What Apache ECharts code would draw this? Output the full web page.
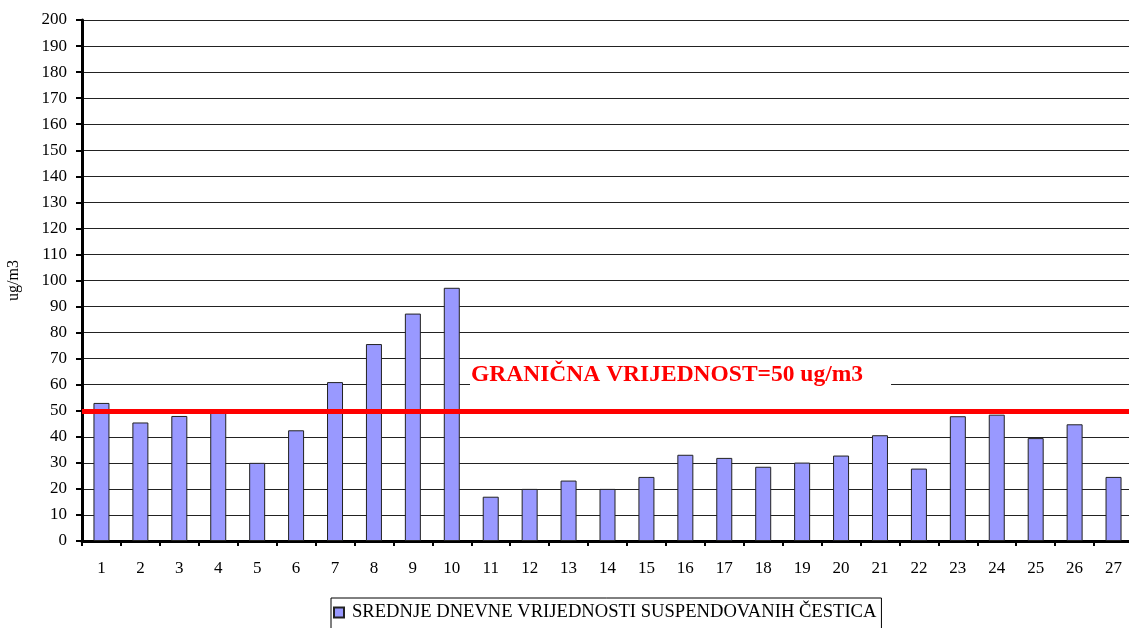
<!DOCTYPE html>
<html>
<head>
<meta charset="utf-8">
<script src="https://cdn.jsdelivr.net/npm/echarts@6/dist/echarts.min.js"></script>
<style>html,body{margin:0;padding:0;background:#fff;}#c{width:1129px;height:628px;}</style>
</head>
<body>
<div id="c"></div>
<script>
const categories = ['1','2','3','4','5','6','7','8','9','10','11','12','13','14','15','16','17','18','19','20','21','22','23','24','25','26','27'];
const values = [53, 45.5, 48, 50, 30, 42.5, 61, 75.6, 87.3, 97.2, 17, 20, 23.2, 20, 24.6, 33.1, 31.9, 28.5, 30.1, 32.8, 40.6, 27.8, 47.9, 48.5, 39.5, 44.8, 24.6];
const limitValue = 50;
const seriesName = 'SREDNJE DNEVNE VRIJEDNOSTI SUSPENDOVANIH ČESTICA';
const limitLabel = 'GRANIČNA VRIJEDNOST=50 ug/m3';
const yName = 'ug/m3';

const serif = 'Liberation Serif, Times New Roman, serif';
const chart = echarts.init(document.getElementById('c'));
chart.setOption({
  animation: false,
  backgroundColor: '#fff',
  grid: { left: 82, top: 20, bottom: 87, width: 1051, outerBoundsMode: 'none', containLabel: false },
  legend: {
    data: [{ name: seriesName, icon: 'rect' }],
    left: 331, top: 598,
    borderColor: '#000', borderWidth: 1,
    padding: [5, 5, 10, 2],
    itemWidth: 10, itemHeight: 10, itemGap: 4,
    textStyle: { fontFamily: serif, fontSize: 18.6, color: '#000', padding: [0, 0, 0, 3] }
  },
  xAxis: {
    type: 'category',
    data: categories,
    axisLine: { lineStyle: { color: '#000', width: 3 } },
    axisTick: { show: true, length: 5, lineStyle: { color: '#000', width: 2 } },
    axisLabel: { margin: 19, fontFamily: serif, fontSize: 17, color: '#000' },
    splitLine: { show: false }
  },
  yAxis: {
    type: 'value',
    min: 0, max: 200, interval: 10,
    name: yName,
    nameLocation: 'middle',
    nameRotate: 90,
    nameGap: 60,
    nameTextStyle: { fontFamily: serif, fontSize: 16, color: '#000' },
    axisLine: { show: true, lineStyle: { color: '#000', width: 3 } },
    axisTick: { show: true, length: 6, lineStyle: { color: '#000', width: 2 } },
    axisLabel: { margin: 15, fontFamily: serif, fontSize: 17, color: '#000' },
    splitLine: { show: true, lineStyle: { color: '#222', width: 1 } }
  },
  series: [{
    name: seriesName,
    type: 'bar',
    data: values,
    barWidth: 16,
    itemStyle: { color: '#9999FF', borderColor: '#222', borderWidth: 1 },
    markLine: {
      silent: true,
      symbol: 'none',
      label: { show: false },
      lineStyle: { color: '#FF0000', width: 5, type: 'solid' },
      data: [{ yAxis: limitValue }]
    }
  }],
  graphic: [{
    type: 'text',
    left: 470, top: 361,
    style: {
      text: limitLabel,
      fill: '#FF0000',
      font: 'bold 23.5px ' + serif,
      backgroundColor: '#fff',
      padding: [2, 28, 4, 1]
    },
    z: 100
  }]
});
</script>
</body>
</html>
